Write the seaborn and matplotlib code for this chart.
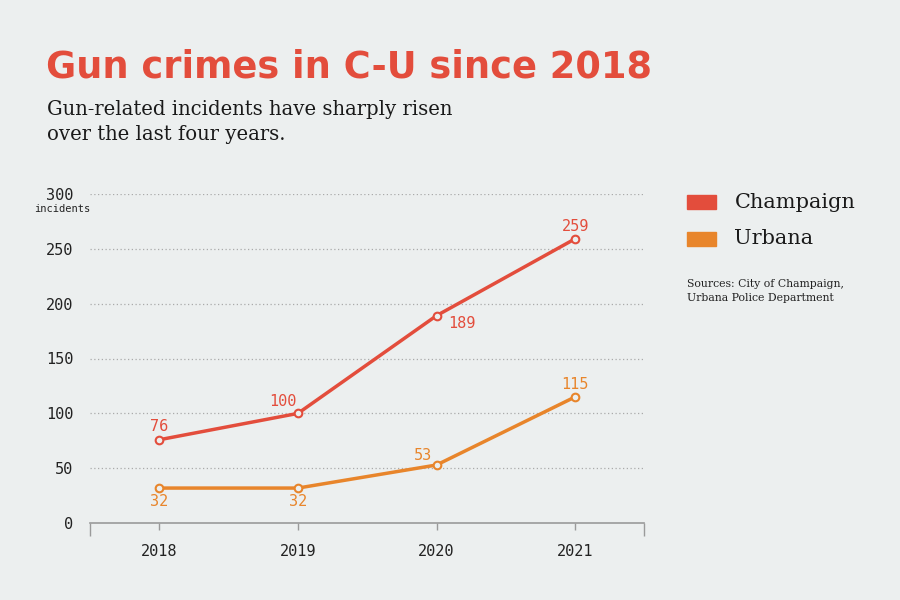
import matplotlib
matplotlib.use("Agg")
import matplotlib.pyplot as plt
import seaborn as sns
import pandas as pd

years = [2018, 2019, 2020, 2021]
champaign = [76, 100, 189, 259]
urbana = [32, 32, 53, 115]
series_names = ["Champaign", "Urbana"]
yticks = [0, 50, 100, 150, 200, 250, 300]

BG = "#ECEFEF"
RED = "#E34D3C"
ORANGE = "#E8852B"

df = pd.DataFrame({
    "year": years * 2,
    "value": champaign + urbana,
    "city": [series_names[0]] * 4 + [series_names[1]] * 4,
})

sns.set_theme(style="white")
plt.rcParams["font.family"] = ["DejaVu Sans"]

fig = plt.figure(figsize=(9, 6), dpi=100, facecolor=BG)
ax = fig.add_axes([0.1, 0.128, 0.616, 0.549])
ax.set_facecolor(BG)

sns.lineplot(data=df, x="year", y="value", hue="city",
             palette={series_names[0]: RED, series_names[1]: ORANGE},
             linewidth=2.5, marker="o", markersize=5.5, markerfacecolor=BG,
             markeredgewidth=1.5, legend=False, ax=ax)
for line, c in zip(ax.lines, [RED, ORANGE]):
    line.set_markeredgecolor(c)

ax.set_xlim(2017.5, 2021.5)
ax.set_ylim(0, 300)
ax.set_yticks(yticks)
ax.set_yticklabels([str(v) for v in yticks], family="DejaVu Sans Mono", fontsize=11, color="#222222")
ax.set_xticks(years)
ax.set_xticklabels([str(y) for y in years], family="DejaVu Sans Mono", fontsize=11, color="#222222")
ax.set_xticks([2017.5, 2021.5], minor=True)
ax.tick_params(axis="x", which="both", bottom=True)
ax.tick_params(axis="x", which="major", length=5, color="#9a9a9a", width=1, pad=10)
ax.tick_params(axis="x", which="minor", length=9, color="#9a9a9a", width=1)
ax.tick_params(axis="y", length=0, pad=12)
for s in ["top", "right", "left"]:
    ax.spines[s].set_visible(False)
ax.spines["bottom"].set_color("#9a9a9a")
ax.spines["bottom"].set_linewidth(1.2)
for v in yticks[1:]:
    ax.axhline(v, color="#aaaaaa", linestyle=(0, (1, 2)), linewidth=0.9, zorder=0)
ax.set_xlabel("")
ax.set_ylabel("")

fig.text(0.069, 0.652, "incidents", family="DejaVu Sans Mono", fontsize=7.5,
         color="#222222", ha="center", va="center")

# value labels (offsets in points, label centre relative to point)
offsets_c = [(0, 9.4), (-11, 8.6), (18, -5.8), (0, 8.6)]
offsets_u = [(0, -10), (0, -10), (-9.4, 7.2), (0, 8.6)]
for x, v, (dx, dy) in zip(years, champaign, offsets_c):
    ax.annotate(str(v), (x, v), xytext=(dx, dy), textcoords="offset points",
                ha="center", va="center", color=RED, fontsize=11, family="DejaVu Sans Mono")
for x, v, (dx, dy) in zip(years, urbana, offsets_u):
    ax.annotate(str(v), (x, v), xytext=(dx, dy), textcoords="offset points",
                ha="center", va="center", color=ORANGE, fontsize=11, family="DejaVu Sans Mono")

# title & subtitle
fig.text(0.051, 0.888, "Gun crimes in C-U since 2018", fontsize=26.5, fontweight="bold",
         color=RED, family="DejaVu Sans", ha="left", va="center")
fig.text(0.052, 0.797, "Gun-related incidents have sharply risen\nover the last four years.",
         fontsize=14.1, color="#1a1a1a", family="DejaVu Serif", ha="left", va="center",
         linespacing=1.4)

# legend
for i, (name, c) in enumerate(zip(series_names, [RED, ORANGE])):
    y = 0.662 - i * 0.061
    fig.patches.append(plt.Rectangle((0.763, y - 0.011), 0.033, 0.024, transform=fig.transFigure,
                                     color=c, figure=fig))
    fig.text(0.816, y + 0.001, name, fontsize=15, color="#1a1a1a", family="DejaVu Serif",
             ha="left", va="center")

fig.text(0.763, 0.515, "Sources: City of Champaign,\nUrbana Police Department",
         fontsize=7.8, color="#222222", family="DejaVu Serif", ha="left", va="center",
         linespacing=1.5)

fig.savefig("out.png", dpi=100, facecolor=BG)
